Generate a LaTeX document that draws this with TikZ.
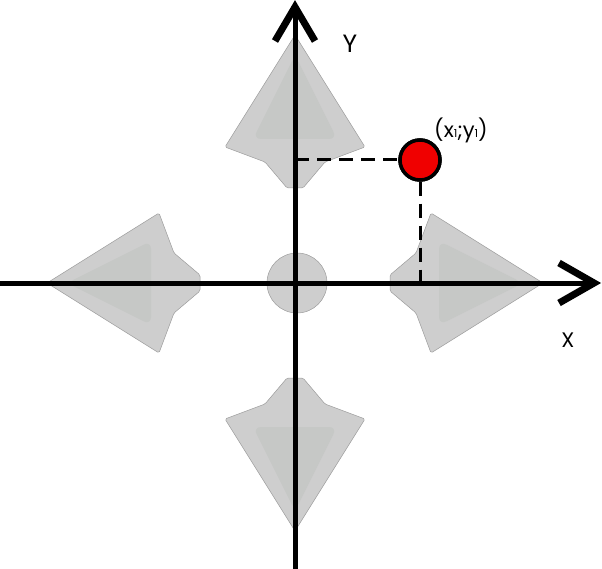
\documentclass[tikz,border=0pt]{standalone}
\usepackage{fontspec}
\setmainfont{Poppins}
\definecolor{kitegray}{RGB}{206,206,206}
\definecolor{kiteinner}{RGB}{198,200,198}
\definecolor{kiteedge}{RGB}{155,155,155}
\definecolor{dotred}{RGB}{240,0,0}
\begin{document}
\begin{tikzpicture}[x=1pt,y=-1pt,
  kite/.style={fill=kitegray, draw=kiteedge, line width=0.5pt, rounded corners=1.5pt},
  kitecore/.style={fill=kiteinner, rounded corners=8pt},
  axis/.style={line width=5pt},
  chev/.style={line width=7pt, line cap=butt, line join=miter},
  dashline/.style={line width=3pt, dash pattern=on 14pt off 8pt},
  lab/.style={inner sep=0pt}]
\useasboundingbox (0,0) rectangle (602,569);
\coordinate (O) at (295,283);
\foreach \a in {0,90,180,270}{
  \begin{scope}[shift={(O)}, rotate=\a]
    \path[kite] (248,0) -- (136,70) -- (121,30) -- (95,8) -- (95,-8) -- (121,-30) -- (136,-70) -- cycle;
    \path[kitecore] (228,0) -- (144,42) -- (144,-42) -- cycle;
  \end{scope}}
\node[circle, fill=kitegray, draw=kiteedge, line width=0.5pt, minimum size=60pt, inner sep=0pt] (C) at (297,283) {};
% dashed projections
\node[circle, fill=dotred, draw=black, line width=3.5pt, minimum size=40pt, inner sep=0pt] (P) at (420,160) {};
\coordinate (Py) at (295,160);
\coordinate (Px) at (420,283);
\draw[dashline] (Py) -- (P.west);
\draw[dashline] (P.south) -- (Px);
% axes
\coordinate (XL) at (0,283);
\coordinate (XR) at (594,283);
\coordinate (YB) at (295,569);
\coordinate (YT) at (295,7);
\draw[axis] (XL) -- (XR);
\draw[axis] (YB) -- (YT);
\coordinate (XA1) at (559,263);
\coordinate (XA2) at (559,303);
\coordinate (YA1) at (275,41);
\coordinate (YA2) at (315,41);
\draw[chev] (XA1) -- (XR) -- (XA2);
\draw[chev] (YA1) -- (YT) -- (YA2);
\node[circle, fill=dotred, draw=black, line width=3.5pt, minimum size=40pt, inner sep=0pt] at (P) {};
% labels
\node[lab, font=\fontsize{25}{25}\selectfont] (LY) at (350,44) {Y};
\node[lab, font=\fontsize{21}{21}\selectfont] (LX) at (568,340) {X};
\node[lab, font=\fontsize{21}{21}\selectfont, anchor=base] (LP) at (461,138) {(x{\fontsize{11}{11}\selectfont 1};y{\fontsize{11}{11}\selectfont 1})};
\end{tikzpicture}
\end{document}
